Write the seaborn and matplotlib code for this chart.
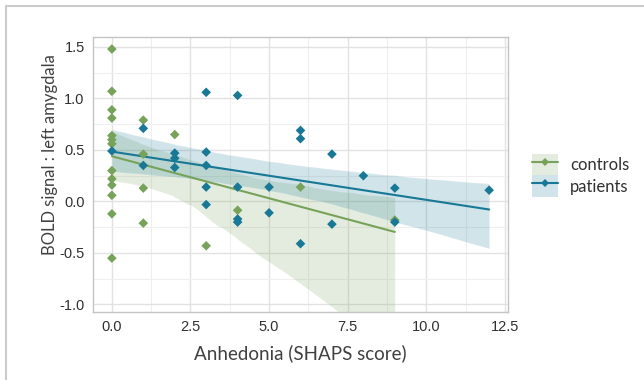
import numpy as np
import pandas as pd
import matplotlib
matplotlib.use("Agg")
import matplotlib.pyplot as plt
import seaborn as sns
from matplotlib.lines import Line2D
from matplotlib.patches import Patch
from matplotlib.collections import PolyCollection

# ---- data ----
controls_x = [0]*13 + [1]*4 + [2, 3, 4, 6, 9]
controls_y = [1.48, 1.07, 0.89, 0.81, 0.64, 0.60, 0.56, 0.30, 0.22, 0.16, 0.06, -0.12, -0.55,
              0.79, 0.46, 0.13, -0.21,
              0.65, -0.43, -0.085, 0.14, -0.18]
patients_x = [0, 1, 1, 2, 2, 2, 3, 3, 3, 3, 3, 4, 4, 4, 4, 5, 5, 6, 6, 6, 7, 7, 8, 9, 9, 12]
patients_y = [0.49, 0.71, 0.35, 0.47, 0.42, 0.33, 1.06, 0.48, 0.35, 0.14, -0.03,
              1.03, 0.14, -0.17, -0.20, 0.14, -0.11, 0.69, 0.61, -0.41, 0.46, -0.22,
              0.25, 0.13, -0.20, 0.11]
groups = ["controls", "patients"]
colors = {"controls": "#77a25a", "patients": "#187895"}
x_ticks = [0.0, 2.5, 5.0, 7.5, 10.0, 12.5]
y_ticks = [-1.0, -0.5, 0.0, 0.5, 1.0, 1.5]
x_label = "Anhedonia (SHAPS score)"
y_label = "BOLD signal : left amygdala"

df = pd.DataFrame({
    "x": controls_x + patients_x,
    "y": controls_y + patients_y,
    "group": ["controls"] * len(controls_x) + ["patients"] * len(patients_x),
})

sns.set_style("white")
plt.rcParams["font.family"] = ["Liberation Sans", "DejaVu Sans"]

fig = plt.figure(figsize=(6.44, 3.80), dpi=100)
W, H = 644, 380
ax = fig.add_axes([93 / W, 1 - 311.7 / H, (508 - 93) / W, (311.7 - 36.7) / H])

# regression lines + bands
for g in groups:
    sub = df[df.group == g]
    n_before = len(ax.collections)
    sns.regplot(data=sub, x="x", y="y", ax=ax, scatter=False, ci=95, n_boot=2000, seed=3,
                color=colors[g], line_kws={"lw": 1.5, "zorder": 3})
    for c in ax.collections[n_before:]:
        if isinstance(c, PolyCollection):
            c.set_alpha(0.2)
            c.set_zorder(2)

# points
sns.scatterplot(data=df, x="x", y="y", hue="group", palette=colors, marker="D", s=24,
                edgecolor="none", ax=ax, legend=False, zorder=4)

ax.set_xlim(-0.6, 12.6)
ax.set_ylim(-1.07, 1.6)
ax.set_xticks(x_ticks)
ax.set_yticks(y_ticks)
ax.set_xticks([1.25, 3.75, 6.25, 8.75, 11.25], minor=True)
ax.set_yticks([-0.75, -0.25, 0.25, 0.75, 1.25], minor=True)
ax.set_xticklabels([f"{v:.1f}" for v in x_ticks])
ax.set_yticklabels([f"{v:.1f}" for v in y_ticks])
ax.grid(True, which="major", color="#e2e2e2", lw=1.0, zorder=0)
ax.grid(True, which="minor", color="#efefef", lw=0.8, zorder=0)
ax.set_axisbelow(True)
for s in ax.spines.values():
    s.set_color("#c4c4c4")
    s.set_linewidth(1.0)
ax.tick_params(which="major", length=3, width=0.8, color="#c4c4c4", labelsize=10.5,
               labelcolor="#303030", pad=3)
ax.tick_params(which="minor", length=0)

ax.set_xlabel(x_label, fontsize=13.5, color="#404040", family=["Lato", "DejaVu Sans"])
ax.set_ylabel(y_label, fontsize=12, color="#404040", family=["Lato", "DejaVu Sans"])
ax.xaxis.set_label_coords(0.5, -0.12)
ax.yaxis.set_label_coords(-0.085, 0.57)

# legend
handles = []
for g in groups:
    handles.append((Patch(facecolor=colors[g], alpha=0.2, edgecolor="none"),
                    Line2D([], [], color=colors[g], lw=1.5, marker="D", markersize=4.5,
                           markeredgewidth=0)))
leg = fig.legend(handles, groups, loc="upper left",
                 bbox_to_anchor=(532 / W, 1 - 154 / H), frameon=False,
                 borderpad=0, borderaxespad=0, handlelength=1.55, handleheight=1.6,
                 labelspacing=0.0, handletextpad=0.75,
                 prop={"family": ["Lato", "DejaVu Sans"], "size": 12})
for t in leg.get_texts():
    t.set_color("#303030")

# outer frame lines
fig.add_artist(Line2D([6 / W, 1], [1 - 6 / H, 1 - 6 / H], transform=fig.transFigure,
                      color="#cccccc", lw=1.5))
fig.add_artist(Line2D([6 / W, 6 / W], [0, 1 - 6 / H], transform=fig.transFigure,
                      color="#cccccc", lw=1.5))

fig.savefig("out.png", dpi=100)
